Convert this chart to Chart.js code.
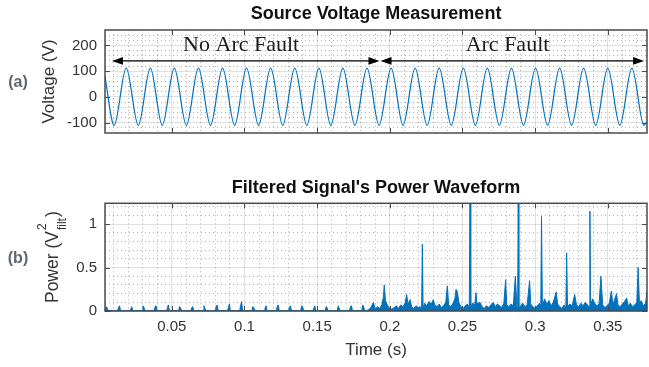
<!DOCTYPE html>
<html>
<head>
<meta charset="utf-8">
<script src="https://cdn.jsdelivr.net/npm/chart.js@4.4.0/dist/chart.umd.min.js"></script>
<style>
  html, body { margin: 0; padding: 0; background: #fff; }
  #wrap { position: relative; width: 649px; height: 367px; overflow: hidden; }
  canvas { position: absolute; left: 0; }
  #voltCanvas { top: 0; }
  #powerCanvas { top: 160px; }
</style>
</head>
<body>
<div id="wrap">
  <canvas id="voltCanvas" width="649" height="150"></canvas>
  <canvas id="powerCanvas" width="649" height="207"></canvas>
</div>
<script>
// ---- axes ----
var timeMin = 0.004, timeMax = 0.377;
var timeTicks = [0.05, 0.1, 0.15, 0.2, 0.25, 0.3, 0.35];
var timeLabels = ['0.05', '0.1', '0.15', '0.2', '0.25', '0.3', '0.35'];
var timeMinor = [0.01, 0.02, 0.03, 0.04, 0.06, 0.07, 0.08, 0.09, 0.11, 0.12, 0.13, 0.14,
                 0.16, 0.17, 0.18, 0.19, 0.21, 0.22, 0.23, 0.24, 0.26, 0.27, 0.28, 0.29,
                 0.31, 0.32, 0.33, 0.34, 0.36, 0.37];

var voltMin = -140, voltMax = 260;
var voltTicks = [-100, 0, 100, 200];
var voltLabels = ['-100', '0', '100', '200'];
var voltMinor = [-120, -80, -60, -40, -20, 20, 40, 60, 80, 120, 140, 160, 180, 220, 240];

var powerMin = 0, powerMax = 1.24;
var powerTicks = [0, 0.5, 1];
var powerLabels = ['0', '0.5', '1'];
var powerMinor = [0.1, 0.2, 0.3, 0.4, 0.6, 0.7, 0.8, 0.9, 1.1, 1.2];

// ---- (a) source voltage: peaks and troughs ----
var voltTime = [0.004, 0.0103, 0.0186, 0.0269, 0.0352, 0.0434, 0.0517, 0.0600, 0.0683, 0.0766,
                0.0849, 0.0932, 0.1014, 0.1097, 0.1180, 0.1263, 0.1346, 0.1429, 0.1512, 0.1594,
                0.1677, 0.1760, 0.1843, 0.1926, 0.2009, 0.2091, 0.2174, 0.2257, 0.2340, 0.2423,
                0.2506, 0.2589, 0.2671, 0.2754, 0.2837, 0.2920, 0.3003, 0.3086, 0.3169, 0.3251,
                0.3334, 0.3417, 0.3500, 0.3583, 0.3666, 0.3749, 0.377];
var voltValue = [78, -110, 112, -110, 112, -110, 112, -110, 112, -110,
                 112, -110, 112, -110, 112, -110, 112, -110, 112, -110,
                 112, -110, 112, -110, 112, -110, 112, -110, 112, -110,
                 112, -110, 112, -110, 112, -110, 112, -110, 112, -110,
                 112, -110, 112, -110, 112, -110, -95];

var regionLabels = ['No Arc Fault', 'Arc Fault'];
var regionStart = [0.0088, 0.1936];
var regionEnd = [0.1929, 0.3750];
var regionTextAt = [0.0977, 0.281];
var regionArrowVolt = 140, regionTextVolt = 206;

// ---- (b) filtered power ----
var powerTime = [
  0.0040,
  0.0043, 0.0049, 0.0056, 0.0063,
  0.0127, 0.0133, 0.0140, 0.0147,
  0.0211, 0.0217, 0.0224, 0.0231,
  0.0295, 0.0301, 0.0308, 0.0315,
  0.0379, 0.0385, 0.0392, 0.0399,
  0.0463, 0.0469, 0.0476, 0.0483,
  0.0547, 0.0553, 0.0560, 0.0567,
  0.0631, 0.0637, 0.0644, 0.0651,
  0.0715, 0.0721, 0.0728, 0.0735,
  0.0799, 0.0805, 0.0812, 0.0819,
  0.0883, 0.0889, 0.0896, 0.0903,
  0.0967, 0.0973, 0.0980, 0.0987,
  0.1051, 0.1057, 0.1064, 0.1071,
  0.1135, 0.1141, 0.1148, 0.1155,
  0.1219, 0.1225, 0.1232, 0.1239,
  0.1303, 0.1309, 0.1316, 0.1323,
  0.1387, 0.1393, 0.1400, 0.1407,
  0.1471, 0.1477, 0.1484, 0.1491,
  0.1555, 0.1561, 0.1568, 0.1575,
  0.1639, 0.1645, 0.1652, 0.1659,
  0.1723, 0.1729, 0.1736, 0.1743,
  0.1807, 0.1813, 0.1820, 0.1827,
  0.1850, 0.1870, 0.1887, 0.1900, 0.1915, 0.1930, 0.1945, 0.1955, 0.1962, 0.1970,
  0.1985, 0.2000, 0.2015, 0.2030, 0.2045, 0.2060, 0.2075, 0.2090, 0.2105, 0.2116,
  0.2125, 0.2140, 0.2150, 0.2165, 0.2180, 0.2195, 0.2210, 0.2219, 0.2224, 0.2229,
  0.2240, 0.2255, 0.2270, 0.2285, 0.2299, 0.2310, 0.2325, 0.2340, 0.2355, 0.2370,
  0.2385, 0.2396, 0.2405, 0.2420, 0.2435, 0.2448, 0.2456, 0.2465, 0.2475, 0.2490,
  0.2505, 0.2520, 0.2535, 0.2547, 0.2552, 0.2557, 0.2570, 0.2585, 0.2593, 0.2600,
  0.2620, 0.2635, 0.2650, 0.2665, 0.2680, 0.2695, 0.2712, 0.2725, 0.2740, 0.2755,
  0.2770, 0.2785, 0.2797, 0.2805, 0.2820, 0.2835, 0.2850, 0.2864, 0.2875, 0.2880,
  0.2884, 0.2888, 0.2900, 0.2915, 0.2930, 0.2945, 0.2962, 0.2970, 0.2985, 0.3000,
  0.3015, 0.3030, 0.3039, 0.3044, 0.3050, 0.3065, 0.3080, 0.3095, 0.3110, 0.3125,
  0.3135, 0.3145, 0.3155, 0.3170, 0.3185, 0.3200, 0.3212, 0.3217, 0.3223, 0.3240,
  0.3255, 0.3272, 0.3285, 0.3300, 0.3315, 0.3330, 0.3345, 0.3360, 0.3372, 0.3377,
  0.3382, 0.3395, 0.3410, 0.3425, 0.3440, 0.3453, 0.3465, 0.3480, 0.3495, 0.3510,
  0.3525, 0.3535, 0.3545, 0.3560, 0.3570, 0.3585, 0.3600, 0.3615, 0.3630, 0.3640,
  0.3655, 0.3670, 0.3685, 0.3700, 0.3709, 0.3718, 0.3730, 0.3745, 0.3760, 0.3771,
  0.3780
];
var powerValue = [
  0.004,
  0.004, 0.05, 0.03, 0.004,
  0.004, 0.04, 0.06, 0.004,
  0.004, 0.02, 0.05, 0.004,
  0.004, 0.06, 0.04, 0.004,
  0.004, 0.05, 0.06, 0.004,
  0.004, 0.03, 0.07, 0.004,
  0.004, 0.05, 0.04, 0.004,
  0.004, 0.04, 0.05, 0.004,
  0.004, 0.06, 0.03, 0.004,
  0.004, 0.05, 0.07, 0.004,
  0.004, 0.04, 0.08, 0.004,
  0.004, 0.06, 0.11, 0.004,
  0.004, 0.05, 0.04, 0.004,
  0.004, 0.03, 0.06, 0.004,
  0.004, 0.05, 0.07, 0.004,
  0.004, 0.04, 0.06, 0.004,
  0.004, 0.06, 0.05, 0.004,
  0.004, 0.03, 0.06, 0.004,
  0.004, 0.05, 0.04, 0.004,
  0.004, 0.06, 0.03, 0.004,
  0.004, 0.05, 0.06, 0.004,
  0.004, 0.07, 0.05, 0.004,
  0.01, 0.04, 0.10, 0.02, 0.05, 0.03, 0.07, 0.15, 0.30, 0.12,
  0.06, 0.03, 0.02, 0.04, 0.06, 0.03, 0.07, 0.05, 0.09, 0.19,
  0.08, 0.13, 0.05, 0.03, 0.06, 0.04, 0.05, 0.03, 0.77, 0.04,
  0.09, 0.06, 0.11, 0.08, 0.13, 0.07, 0.05, 0.08, 0.04, 0.06,
  0.10, 0.29, 0.07, 0.05, 0.09, 0.14, 0.25, 0.22, 0.10, 0.05,
  0.03, 0.06, 0.08, 0.04, 1.40, 0.05, 0.09, 0.07, 0.21, 0.08,
  0.10, 0.05, 0.03, 0.06, 0.04, 0.07, 0.10, 0.05, 0.08, 0.06,
  0.04, 0.09, 0.36, 0.07, 0.05, 0.08, 0.06, 0.40, 0.04, 0.02,
  1.40, 0.03, 0.06, 0.09, 0.05, 0.07, 0.35, 0.08, 0.05, 0.03,
  0.06, 0.09, 0.05, 1.09, 0.06, 0.14, 0.08, 0.12, 0.06, 0.10,
  0.16, 0.22, 0.08, 0.05, 0.03, 0.07, 0.04, 0.67, 0.05, 0.08,
  0.06, 0.19, 0.07, 0.05, 0.09, 0.06, 0.10, 0.07, 0.05, 1.15,
  0.06, 0.14, 0.09, 0.06, 0.08, 0.40, 0.07, 0.04, 0.06, 0.09,
  0.23, 0.08, 0.12, 0.20, 0.07, 0.05, 0.08, 0.11, 0.15, 0.06,
  0.09, 0.05, 0.07, 0.10, 0.50, 0.08, 0.12, 0.06, 0.09, 0.23,
  0.10
];

var FONT = '"Liberation Sans", Arial, sans-serif';
var BLUE = '#0072BD';
var TEXT = '#333333';

function toPoints(xs, ys) {
  var pts = [];
  for (var i = 0; i < xs.length; i++) pts.push({x: xs[i], y: ys[i]});
  return pts;
}

function gridAxis(axisName, position, min, max, values, labels, fitSize, minor) {
  return {
    type: 'linear',
    axis: axisName,
    position: position,
    min: min,
    max: max,
    afterBuildTicks: function(scale) {
      scale.ticks = values.map(function(v) { return {value: v}; });
    },
    afterFit: function(scale) {
      if (axisName === 'x') scale.height = fitSize; else scale.width = fitSize;
    },
    grid: {
      color: minor ? 'rgba(0,0,0,0.3)' : 'rgba(0,0,0,0.12)',
      lineWidth: 1,
      drawTicks: false
    },
    border: { display: false, dash: minor ? [1, 3] : [] },
    ticks: {
      display: !!labels,
      padding: axisName === 'x' ? 7 : 8,
      color: TEXT,
      font: { family: FONT, size: 15 },
      callback: function(v, i) { return labels ? labels[i] : ''; }
    }
  };
}

// box around the axes + inward tick marks, like MATLAB
var boxPlugin = {
  id: 'box',
  afterDatasetsDraw: function(chart) {
    var a = chart.chartArea, ctx = chart.ctx;
    var xs = chart.scales.x, ys = chart.scales.y;
    ctx.save();
    ctx.strokeStyle = '#4a4a4a';
    ctx.lineWidth = 1;
    ctx.beginPath();
    xs.ticks.forEach(function(t) {
      var px = Math.round(xs.getPixelForValue(t.value)) + 0.5;
      ctx.moveTo(px, a.bottom); ctx.lineTo(px, a.bottom - 5);
      ctx.moveTo(px, a.top); ctx.lineTo(px, a.top + 5);
    });
    ys.ticks.forEach(function(t) {
      var py = Math.round(ys.getPixelForValue(t.value)) + 0.5;
      ctx.moveTo(a.left, py); ctx.lineTo(a.left + 5, py);
      ctx.moveTo(a.right, py); ctx.lineTo(a.right - 5, py);
    });
    ctx.stroke();
    ctx.lineWidth = 1.5;
    ctx.strokeRect(a.left, a.top, a.right - a.left, a.bottom - a.top);
    ctx.restore();
  }
};

// "(a)" / "(b)" panel tag
var tagPlugin = {
  id: 'panelTag',
  afterDraw: function(chart, args, opts) {
    var a = chart.chartArea, ctx = chart.ctx;
    ctx.save();
    ctx.font = 'bold 16px ' + FONT;
    ctx.fillStyle = '#5f6670';
    ctx.textAlign = 'center';
    ctx.textBaseline = 'middle';
    ctx.fillText(opts.text, 18, (a.top + a.bottom) / 2 + 1);
    ctx.restore();
  }
};

// double arrows + region names on the voltage plot
var regionPlugin = {
  id: 'regions',
  afterDatasetsDraw: function(chart) {
    var ctx = chart.ctx, xs = chart.scales.x, ys = chart.scales.y;
    var ay = ys.getPixelForValue(regionArrowVolt);
    var ty = ys.getPixelForValue(regionTextVolt);
    ctx.save();
    ctx.strokeStyle = '#000';
    ctx.fillStyle = '#000';
    ctx.lineWidth = 1.3;
    for (var i = 0; i < regionLabels.length; i++) {
      var x1 = xs.getPixelForValue(regionStart[i]);
      var x2 = xs.getPixelForValue(regionEnd[i]);
      ctx.beginPath();
      ctx.moveTo(x1 + 8, ay); ctx.lineTo(x2 - 8, ay);
      ctx.stroke();
      ctx.beginPath();
      ctx.moveTo(x1, ay); ctx.lineTo(x1 + 11, ay - 3.8); ctx.lineTo(x1 + 11, ay + 3.8); ctx.closePath();
      ctx.moveTo(x2, ay); ctx.lineTo(x2 - 11, ay - 3.8); ctx.lineTo(x2 - 11, ay + 3.8); ctx.closePath();
      ctx.fill();
      ctx.font = '22px "Liberation Serif", "Times New Roman", serif';
      ctx.fillStyle = '#1c1a17';
      ctx.textAlign = 'center';
      ctx.textBaseline = 'middle';
      ctx.fillText(regionLabels[i], xs.getPixelForValue(regionTextAt[i]), ty + 1);
      ctx.fillStyle = '#000';
    }
    ctx.restore();
  }
};

// y label with super/subscript: Power (V^2_filt)
var powerLabelPlugin = {
  id: 'powerLabel',
  afterDraw: function(chart) {
    var a = chart.chartArea, ctx = chart.ctx;
    var main = 'Power (V', sup = '2', sub = 'filt', close = ')';
    ctx.save();
    ctx.fillStyle = TEXT;
    ctx.textBaseline = 'alphabetic';
    ctx.textAlign = 'left';
    ctx.font = '17.5px ' + FONT;
    var w1 = ctx.measureText(main).width;
    var w3 = ctx.measureText(close).width;
    ctx.font = '12px ' + FONT;
    var w2 = Math.max(ctx.measureText(sup).width, ctx.measureText(sub).width);
    var total = w1 + 1 + w2 + 1 + w3;
    ctx.translate(58, (a.top + a.bottom) / 2);
    ctx.rotate(-Math.PI / 2);
    var u = -total / 2;
    ctx.font = '17.5px ' + FONT;
    ctx.fillText(main, u, 0);
    ctx.font = '12px ' + FONT;
    ctx.fillText(sup, u + w1 + 1, -12);
    ctx.fillText(sub, u + w1 + 1, 8);
    ctx.font = '17.5px ' + FONT;
    ctx.fillText(close, u + w1 + 1 + w2 + 1, 0);
    ctx.restore();
  }
};

var voltY = gridAxis('y', 'left', voltMin, voltMax, voltTicks, voltLabels, 105, false);
voltY.title = { display: true, text: 'Voltage (V)', color: TEXT,
                font: { family: FONT, size: 17 }, padding: { top: 38.8, bottom: 0 } };

new Chart(document.getElementById('voltCanvas'), {
  type: 'line',
  data: {
    datasets: [{
      data: toPoints(voltTime, voltValue),
      xAxisID: 'x',
      yAxisID: 'y',
      borderColor: BLUE,
      borderWidth: 1.2,
      pointRadius: 0,
      fill: false,
      cubicInterpolationMode: 'monotone'
    }]
  },
  options: {
    responsive: false,
    animation: false,
    devicePixelRatio: 1,
    layout: { padding: { left: 0, right: 2, top: 0, bottom: 13 } },
    plugins: {
      legend: { display: false },
      tooltip: { enabled: false },
      title: {
        display: true, fullSize: false, text: 'Source Voltage Measurement', color: '#111',
        font: { family: FONT, size: 18, weight: 'bold' }, padding: { top: 3, bottom: 5.4 }
      },
      panelTag: { text: '(a)' }
    },
    scales: {
      x: gridAxis('x', 'bottom', timeMin, timeMax, timeTicks, null, 0, false),
      xMinor: gridAxis('x', 'bottom', timeMin, timeMax, timeMinor, null, 0, true),
      y: voltY,
      yMinor: gridAxis('y', 'left', voltMin, voltMax, voltMinor, null, 0, true)
    }
  },
  plugins: [boxPlugin, tagPlugin, regionPlugin]
});

var timeX = gridAxis('x', 'bottom', timeMin, timeMax, timeTicks, timeLabels, 56, false);
timeX.title = { display: true, text: 'Time (s)', color: TEXT,
                font: { family: FONT, size: 17 }, padding: { top: 0, bottom: 6.8 } };

new Chart(document.getElementById('powerCanvas'), {
  type: 'line',
  data: {
    datasets: [{
      data: toPoints(powerTime, powerValue),
      xAxisID: 'x',
      yAxisID: 'y',
      borderColor: BLUE,
      backgroundColor: BLUE,
      borderWidth: 1,
      pointRadius: 0,
      tension: 0,
      fill: 'origin'
    }]
  },
  options: {
    responsive: false,
    animation: false,
    devicePixelRatio: 1,
    layout: { padding: { left: 0, right: 2, top: 0, bottom: 0 } },
    plugins: {
      legend: { display: false },
      tooltip: { enabled: false },
      title: {
        display: true, fullSize: false, text: "Filtered Signal's Power Waveform", color: '#111',
        font: { family: FONT, size: 18, weight: 'bold' }, padding: { top: 17.2, bottom: 4.5 }
      },
      panelTag: { text: '(b)' }
    },
    scales: {
      x: timeX,
      xMinor: gridAxis('x', 'bottom', timeMin, timeMax, timeMinor, null, 0, true),
      y: gridAxis('y', 'left', powerMin, powerMax, powerTicks, powerLabels, 105, false),
      yMinor: gridAxis('y', 'left', powerMin, powerMax, powerMinor, null, 0, true)
    }
  },
  plugins: [boxPlugin, tagPlugin, powerLabelPlugin]
});
</script>
</body>
</html>
